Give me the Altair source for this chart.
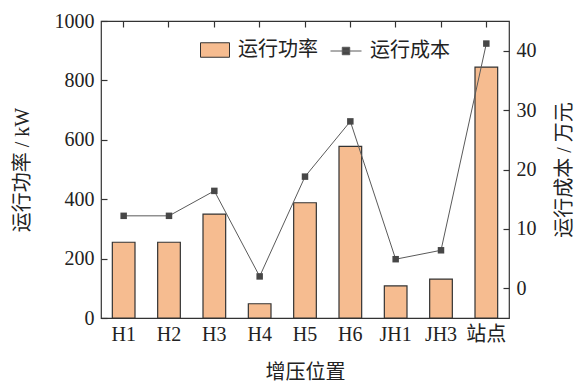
import altair as alt
import pandas as pd

# Booster sites, operating power (kW) and operating cost (10k yuan)
sites = ["H1", "H2", "H3", "H4", "H5", "H6", "JH1", "JH3", "站点"]
power_kw = [255, 255, 350, 48, 388, 578, 108, 131, 845]
cost_wan = [12.2, 12.2, 16.4, 2.0, 18.8, 28.1, 4.9, 6.4, 41.2]

# tick values of the two value axes
power_ticks = [0, 200, 400, 600, 800, 1000]
cost_ticks = [0, 10, 20, 30, 40]

df = pd.DataFrame({
    "site": sites,
    "power": power_kw,
    "cost": cost_wan,
    "p_name": ["运行功率"] * len(sites),
    "c_name": ["运行成本"] * len(sites),
})

W, H = 408, 297
FONT = "'Liberation Serif', 'Times New Roman', 'Noto Sans CJK SC'"
INK = "#333333"
BAR_FILL = "#F6BC90"
LINE_COL = "#5a5a5a"
MARK_COL = "#474747"
FS = 20
TL = 6  # ticks point into the plot: each axis is pulled in by TL and its ticks reach back to the frame

x_scale = alt.Scale(paddingInner=0.5, paddingOuter=0.25)
p_scale = alt.Scale(domain=[0, 1000], nice=False)
c_scale = alt.Scale(domain=[-5, 45], nice=False)

bottom_axis = alt.Axis(orient="bottom", title="增压位置", labelAngle=0,
                       offset=-TL, tickSize=TL, labelPadding=6, titlePadding=18)
top_axis = alt.Axis(orient="top", title=None, labels=False,
                    offset=-TL, tickSize=TL)
left_axis = alt.Axis(orient="left", title="运行功率 / kW", format="d",
                     values=power_ticks, offset=-TL, tickSize=TL,
                     labelPadding=7, titlePadding=22)
right_axis = alt.Axis(orient="right", title="运行成本 / 万元",
                      values=cost_ticks, offset=-TL, tickSize=TL,
                      labelPadding=7, titlePadding=18,
                      titleAngle=270, titleBaseline="top")

bars = alt.Chart(df).mark_bar(stroke=INK, strokeWidth=1.2).encode(
    x=alt.X("site:N", sort=sites, scale=x_scale, axis=bottom_axis),
    y=alt.Y("power:Q", scale=p_scale, axis=left_axis),
    fill=alt.Fill("p_name:N", scale=alt.Scale(range=[BAR_FILL]),
                  legend=alt.Legend(title=None, orient="none",
                                    legendX=99, legendY=14,
                                    symbolType="M-1,-0.5H1V0.5H-1Z",
                                    symbolSize=841,
                                    symbolStrokeColor=INK,
                                    symbolStrokeWidth=1,
                                    labelOffset=8)),
)

line = alt.Chart(df).mark_line(strokeWidth=1).encode(
    x=alt.X("site:N", sort=sites, scale=x_scale, axis=top_axis),
    y=alt.Y("cost:Q", scale=c_scale, axis=right_axis),
    stroke=alt.Stroke("c_name:N", scale=alt.Scale(range=[LINE_COL]),
                      legend=alt.Legend(title=None, orient="none",
                                        legendX=229, legendY=14,
                                        symbolType="M-1,0H1M-0.24,-0.24H0.24V0.24H-0.24Z",
                                        symbolSize=961,
                                        symbolFillColor=MARK_COL,
                                        symbolStrokeColor=LINE_COL,
                                        symbolStrokeWidth=1,
                                        labelOffset=8)),
)

points = alt.Chart(df).mark_point(shape="square", size=42, filled=True,
                                  color=MARK_COL, opacity=1).encode(
    x=alt.X("site:N", sort=sites, scale=x_scale, axis=top_axis),
    y=alt.Y("cost:Q", scale=c_scale, axis=right_axis),
)

cost_layer = alt.layer(line, points)

chart = (
    alt.layer(bars, cost_layer)
    .resolve_scale(y="independent")
    .resolve_axis(x="independent", y="independent")
    .properties(
        width=W,
        height=H,
        padding={"left": 12, "top": 11, "right": 4, "bottom": 1},
    )
    .configure_view(stroke=INK, strokeWidth=1.2)
    .configure_axis(
        domain=False, grid=False, tickColor=INK, tickWidth=1.2, zindex=1,
        labelFont=FONT, labelFontSize=FS, labelColor="#222222",
        titleFont=FONT, titleFontSize=FS, titleFontWeight="normal",
        titleColor="#222222",
    )
    .configure_legend(
        labelFont=FONT, labelFontSize=FS, labelColor="#222222",
        padding=0, direction="horizontal",
    )
)

chart.save("out.html", embed_options={"renderer": "svg", "actions": False})
